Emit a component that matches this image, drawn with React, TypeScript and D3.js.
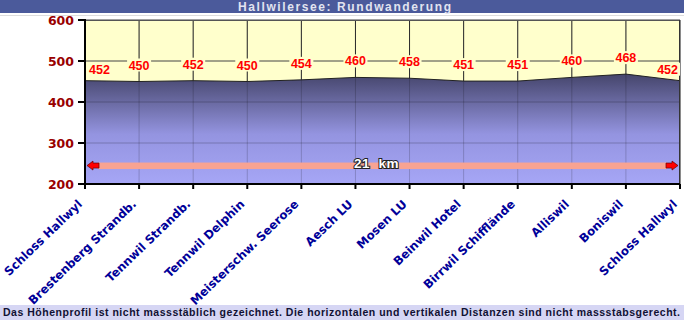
import React from "react";
import * as d3 from "d3";

const stations = [
  "Schloss Hallwyl",
  "Brestenberg Strandb.",
  "Tennwil Strandb.",
  "Tennwil Delphin",
  "Meisterschw. Seerose",
  "Aesch LU",
  "Mosen LU",
  "Beinwil Hotel",
  "Birrwil Schifflände",
  "Alliswil",
  "Boniswil",
  "Schloss Hallwyl",
];
const elevations = [452, 450, 452, 450, 454, 460, 458, 451, 451, 460, 468, 452];
const yTicks = [200, 300, 400, 500, 600];
const title = "Hallwilersee: Rundwanderung";
const distanceLabel = "21  km";
const footer =
  "Das Höhenprofil ist nicht massstäblich gezeichnet. Die horizontalen und vertikalen Distanzen sind nicht massstabsgerecht.";

const W = 684;
const H = 320;
const left = 85;
const right = 680;
const top = 20;
const bottom = 184;

export default function App() {
  const x = d3
    .scaleLinear()
    .domain([0, stations.length - 1])
    .range([left, right]);
  const y = d3.scaleLinear().domain([200, 600]).range([bottom, top]);

  const area = d3
    .area<number>()
    .x((_, i) => x(i))
    .y0(y(200))
    .y1((d) => y(d));
  const line = d3
    .line<number>()
    .x((_, i) => x(i))
    .y((d) => y(d));

  const barY = y(245);
  const lx = x(0);
  const rx = x(stations.length - 1);

  return (
    <svg
      width={W}
      height={H}
      style={{ position: "absolute", left: 0, top: 0, background: "#fff" }}
    >
      <defs>
        <linearGradient
          id="ag"
          gradientUnits="userSpaceOnUse"
          x1={0}
          x2={0}
          y1={y(470)}
          y2={y(200)}
        >
          <stop offset="0" stopColor="#44446a" />
          <stop offset="0.55" stopColor="#9494e0" />
          <stop offset="1" stopColor="#a6a6f6" />
        </linearGradient>
      </defs>
      {/* title bar */}
      <rect x={0} y={0} width={W} height={13} fill="#4b5a9b" />
      <text
        x={238}
        y={11}
        textLength={213}
        lengthAdjust="spacing"
        fontFamily="Liberation Sans, Arial, sans-serif"
        fontWeight="bold"
        fontSize={12}
        fill="#e2e4f0"
      >
        {title}
      </text>
      <line x1={0} x2={W} y1={15.5} y2={15.5} stroke="#ddd" />

      {/* plot background */}
      <rect x={left} y={top} width={right - left} height={bottom - top} fill="#ffffcc" />
      {elevations.map((_, i) => (
        <line key={"vg" + i} x1={x(i)} x2={x(i)} y1={top} y2={bottom} stroke="#333" strokeWidth={1} />
      ))}
      {yTicks.map((t) => (
        <line key={"hg" + t} x1={left} x2={right} y1={y(t)} y2={y(t)} stroke="#444" strokeWidth={1} />
      ))}
      {/* area */}
      <path d={area(elevations) || ""} fill="url(#ag)" />
      {elevations.map((_, i) => (
        <line key={"vg2" + i} x1={x(i)} x2={x(i)} y1={top} y2={bottom} stroke="#000" strokeOpacity={0.18} />
      ))}
      {[300, 400].map((t) => (
        <line key={"hg2" + t} x1={left} x2={right} y1={y(t)} y2={y(t)} stroke="#000" strokeOpacity={0.15} strokeWidth={1.5} />
      ))}
      <path d={line(elevations) || ""} fill="none" stroke="#222" strokeWidth={1} />
      <line x1={left} x2={right} y1={top + 0.5} y2={top + 0.5} stroke="#555" />
      <line x1={right - 0.5} x2={right - 0.5} y1={top} y2={bottom} stroke="#333" />

      {/* value labels */}
      {elevations.map((v, i) => {
        const isFirst = i === 0;
        const isLast = i === elevations.length - 1;
        const by = y(v) - (isFirst || isLast ? 7 : 12);
        const anchor = isFirst ? "start" : isLast ? "end" : "middle";
        const tx = isFirst ? x(i) + 4 : isLast ? x(i) - 2 : x(i);
        const rx0 = isFirst ? tx - 2 : isLast ? tx - 22 : tx - 12;
        return (
          <g key={"lab" + i}>
            <rect x={rx0} y={by - 11} width={24} height={13} fill="#ffffcc" />
            <text
              x={tx}
              y={by}
              textAnchor={anchor}
              fontFamily="Liberation Sans, Arial, sans-serif"
              fontWeight="bold"
              fontSize={12.5}
              fill="#ff0000"
            >
              {v}
            </text>
          </g>
        );
      })}

      {/* distance bar */}
      <rect x={lx + 13} y={barY - 3} width={rx - lx - 26} height={6.5} fill="#f8a392" />
      <path
        d={`M${lx + 2},${barY} L${lx + 8},${barY - 4.5} L${lx + 8},${barY - 2.5} L${lx + 14},${barY - 2.5} L${lx + 14},${barY + 2.5} L${lx + 8},${barY + 2.5} L${lx + 8},${barY + 4.5} Z`}
        fill="#ff0000"
        stroke="#600"
        strokeWidth={0.7}
      />
      <path
        d={`M${rx - 2},${barY} L${rx - 8},${barY - 4.5} L${rx - 8},${barY - 2.5} L${rx - 14},${barY - 2.5} L${rx - 14},${barY + 2.5} L${rx - 8},${barY + 2.5} L${rx - 8},${barY + 4.5} Z`}
        fill="#ff0000"
        stroke="#600"
        strokeWidth={0.7}
      />
      <text
        x={(lx + rx) / 2 - 6}
        y={barY + 2.5}
        textAnchor="middle"
        fontFamily="Liberation Sans, Arial, sans-serif"
        fontWeight="bold"
        fontSize={13.5}
        letterSpacing={0.5}
        fill="#fff"
        stroke="#222"
        strokeWidth={2}
        paintOrder="stroke"
        style={{ whiteSpace: "pre" }}
      >
        {distanceLabel}
      </text>

      {/* axes */}
      <line x1={left} x2={left} y1={top - 1} y2={bottom + 1} stroke="#000" strokeWidth={2} />
      <line x1={left - 1} x2={right} y1={bottom} y2={bottom} stroke="#000" strokeWidth={2} />
      {yTicks.map((t) => (
        <g key={"yt" + t}>
          <line x1={left - 7} x2={left} y1={y(t)} y2={y(t)} stroke="#000" strokeWidth={2} />
          <text
            x={left - 11}
            y={y(t) + 4.5}
            textAnchor="end"
            fontFamily="DejaVu Sans, Verdana, sans-serif"
            fontWeight="bold"
            fontSize={12.5}
            fill="#990000"
          >
            {t}
          </text>
        </g>
      ))}
      {stations.map((s, i) => (
        <g key={"xt" + i}>
          <line x1={x(i)} x2={x(i)} y1={bottom} y2={bottom + 5} stroke="#000" strokeWidth={2} />
          <text
            transform={`translate(${x(i) - 2},${bottom + 21}) rotate(-44)`}
            textAnchor="end"
            fontFamily="DejaVu Sans, Verdana, sans-serif"
            fontWeight="bold"
            fontSize={11.8}
            fill="#000099"
          >
            {s}
          </text>
        </g>
      ))}

      {/* footer */}
      <rect x={0} y={305} width={W} height={15} fill="#d6d6f4" />
      <text
        x={3}
        y={316}
        textLength={677}
        lengthAdjust="spacing"
        fontFamily="Liberation Sans, Arial, sans-serif"
        fontWeight="bold"
        fontSize={10.5}
        fill="#111133"
      >
        {footer}
      </text>
    </svg>
  );
}
